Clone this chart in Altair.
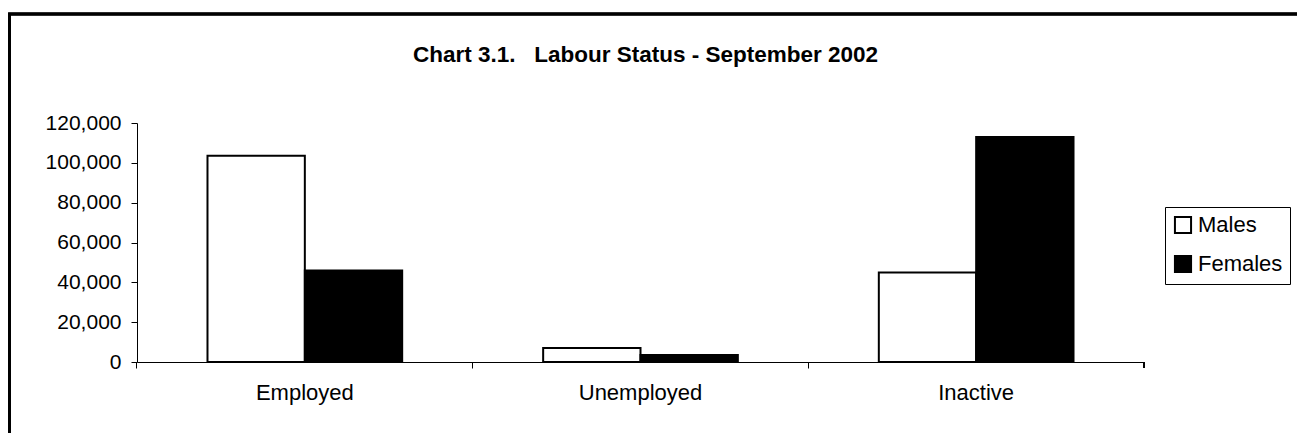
import altair as alt
import pandas as pd

title_text = "Chart 3.1.\u00a0\u00a0\u00a0Labour Status - September 2002"
categories = ["Employed", "Unemployed", "Inactive"]
males = [103500, 7000, 45000]
females = [46000, 3500, 113000]
series = ["Males", "Females"]

rows = []
for i, c in enumerate(categories):
    rows.append({"status": c, "sex": "Males", "value": males[i]})
    rows.append({"status": c, "sex": "Females", "value": females[i]})
df = pd.DataFrame(rows)

W, H = 1007, 239
FONT = "Liberation Sans, Arial, Helvetica, sans-serif"
PI = 0.42

bars = alt.Chart(df).mark_bar(stroke="black", strokeWidth=2).encode(
    x=alt.X("status:N", sort=categories, title=None,
            scale=alt.Scale(paddingInner=PI, paddingOuter=PI / 2),
            axis=alt.Axis(labelAngle=0, bandPosition=-(PI / 2) / (1 - PI), tickSize=6,
                          labelPadding=14, labelFontSize=22, labelColor="black",
                          domainColor="black", tickColor="black", labelFont=FONT)),
    xOffset=alt.XOffset("sex:N", sort=series, scale=alt.Scale(paddingInner=0, paddingOuter=0)),
    y=alt.Y("value:Q", title=None,
            scale=alt.Scale(domain=[0, 120000], nice=False),
            axis=alt.Axis(values=[0, 20000, 40000, 60000, 80000, 100000, 120000], format=",d",
                          grid=False, tickSize=6, labelPadding=10, labelFontSize=21,
                          labelColor="black", domainColor="black", tickColor="black",
                          labelFont=FONT)),
    color=alt.Color("sex:N", sort=series,
                    scale=alt.Scale(domain=series, range=["white", "black"]),
                    legend=alt.Legend(title=None, orient="none", legendX=1028, legendY=84,
                                      symbolType="square", symbolSize=260,
                                      symbolStrokeColor="black", symbolStrokeWidth=2,
                                      labelFontSize=22, labelFont=FONT, labelColor="black",
                                      labelOffset=4, rowPadding=13, padding=7,
                                      strokeColor="black", fillColor="white")),
)

end_tick = alt.Chart(df).mark_rule(color="black", strokeWidth=1).encode(
    x=alt.value(W), y=alt.value(H), y2=alt.value(H + 6)
)

frame = alt.Chart(df).mark_rect(fill=None, stroke="black", strokeWidth=2.7).encode(
    x=alt.value(-127.5), x2=alt.value(W + 400), y=alt.value(-109), y2=alt.value(H + 200)
)

title = alt.Chart(pd.DataFrame({"t": [title_text]})).mark_text(
    font=FONT, fontSize=22.5, fontWeight="bold", color="black",
    align="center", baseline="alphabetic"
).encode(x=alt.value(W / 2 + 5), y=alt.value(-61), text="t:N")

chart = alt.layer(frame, bars, end_tick, title).properties(
    width=W, height=H,
    autosize=alt.AutoSizeParams(type="none"),
    padding={"left": 129, "top": 115, "right": 153, "bottom": 71},
).configure_view(stroke=None)

chart.save("out.html", embed_options={"renderer": "svg", "actions": False})
